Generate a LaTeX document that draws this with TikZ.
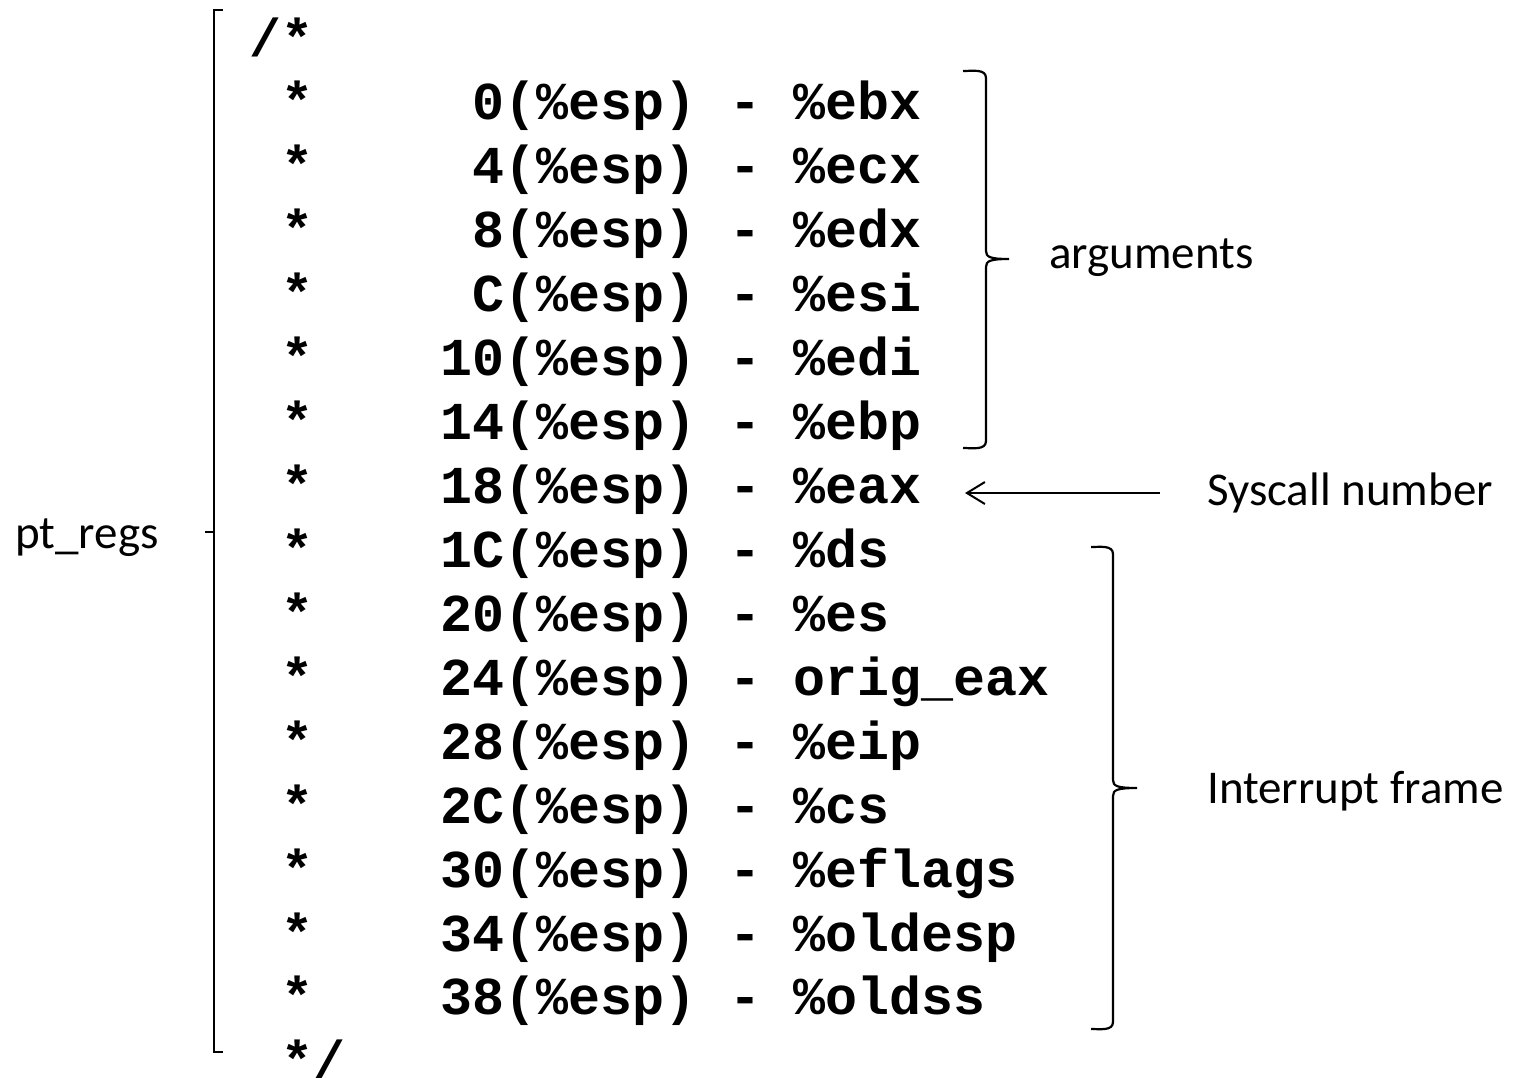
\documentclass[tikz,border=0pt]{standalone}
\usepackage{fontspec}
\setmainfont{Carlito}
\newfontfamily\codefont{Liberation Mono}
\usetikzlibrary{arrows.meta}
\begin{document}
\begin{tikzpicture}[x=1pt,y=-1pt,
  code/.style={inner sep=0pt,font=\codefont\bfseries\fontsize{53.3}{60}\selectfont},
  lbl/.style={anchor=base west,inner sep=0pt,font=\fontsize{47}{56}\selectfont},
  brk/.style={line width=2.2pt},
  arr/.style={line width=2pt,-{Straight Barb[length=18pt,width=22pt,line width=2pt]}}]
\useasboundingbox[fill=white] (0,0) rectangle (1515,1077);
\def\xo{249}\def\cw{32}\def\bz{56}\def\pitch{63.93}
% opening line
\node[code,anchor=base west] (open) at (\xo,\bz) {/*};
\foreach \k/\off/\reg in {1/0/\%ebx,2/4/\%ecx,3/8/\%edx,4/C/\%esi,5/10/\%edi,6/14/\%ebp,
  7/18/\%eax,8/1C/\%ds,9/20/\%es,10/24/orig\_eax,11/28/\%eip,12/2C/\%cs,
  13/30/\%eflags,14/34/\%oldesp,15/38/\%oldss}{
  \node[code,anchor=base west] (star\k) at ({\xo+\cw},{\bz+\k*\pitch}) {*};
  \node[code,anchor=base east] (off\k) at ({\xo+14*\cw},{\bz+\k*\pitch}) {\off(\%esp)};
  \node[code,anchor=base west] (dash\k) at ({\xo+15*\cw},{\bz+\k*\pitch}) {-};
  \node[code,anchor=base west] (reg\k) at ({\xo+17*\cw},{\bz+\k*\pitch}) {\reg};
}
\node[code,anchor=base west] (close) at ({\xo+\cw},{\bz+16*\pitch}) {*/};
% labels
\node[lbl] (ptregs) at (15,548) {pt\_regs};
\node[lbl] (args) at (1049,268) {arguments};
\node[lbl] (sys) at (1207,505) {Syscall number};
\node[lbl] (intr) at (1207,803) {Interrupt frame};
% pt_regs bracket
\draw[brk] (223,10) -- (214,10) -- (214,1052) -- (223,1052);
\draw[brk] (214,532) -- (205,532);
% arguments bracket
\draw[brk] (963,71) to[out=0,in=90] (986,78) -- (986,251)
  .. controls (986,257) and (990,259) .. (1009,259)
  .. controls (990,259) and (986,261) .. (986,267) -- (986,441)
  to[out=-90,in=0] (963,448);
% interrupt frame bracket
\draw[brk] (1091,547) to[out=0,in=90] (1113,554) -- (1113,780)
  .. controls (1113,786) and (1117,788) .. (1137,788)
  .. controls (1117,788) and (1113,790) .. (1113,796) -- (1113,1022)
  to[out=-90,in=0] (1091,1029);
% syscall arrow
\coordinate (atail) at (1160,493);
\coordinate (ahead) at (965,493);
\draw[arr] (atail) -- (ahead);
\end{tikzpicture}
\end{document}
